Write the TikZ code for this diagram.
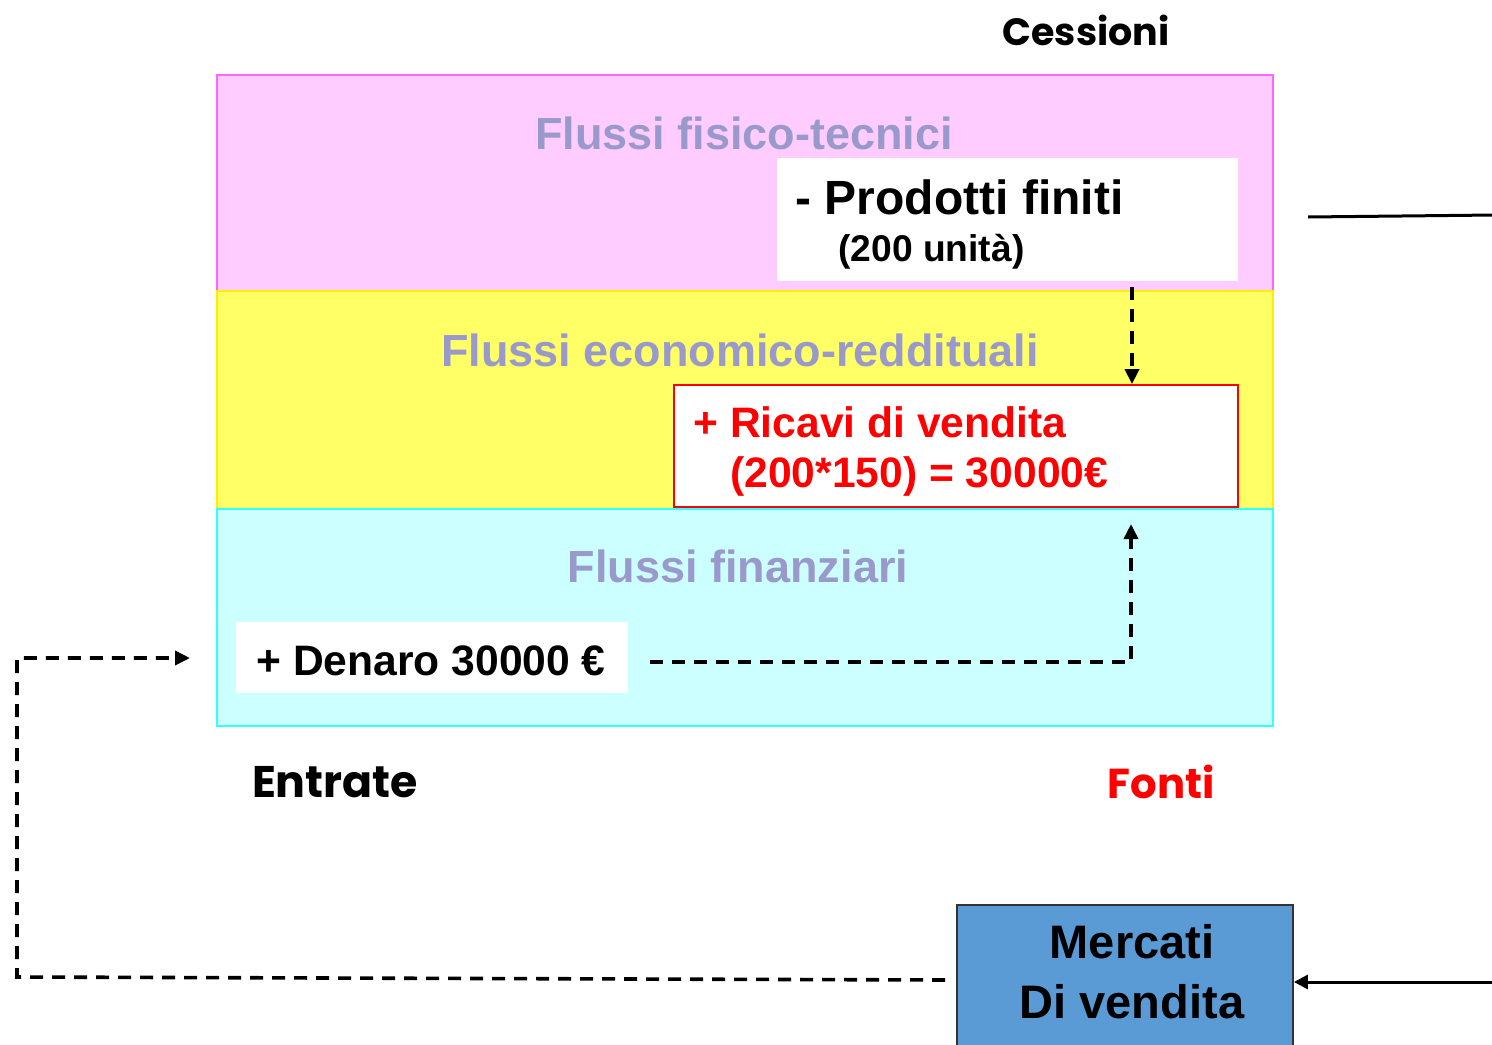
\documentclass[tikz,border=0pt]{standalone}
\usepackage{fontspec}
\setmainfont{Liberation Sans}
\newfontfamily\comicfont{Poppins}
\usetikzlibrary{arrows.meta,fit}
\definecolor{pinkF}{HTML}{FFCCFF}
\definecolor{pinkD}{HTML}{FF66FF}
\definecolor{yelF}{HTML}{FFFF66}
\definecolor{yelD}{HTML}{FFEE00}
\definecolor{cyaF}{HTML}{CCFFFF}
\definecolor{cyaD}{HTML}{33FFFF}
\definecolor{ttl}{HTML}{9999CC}
\definecolor{mblue}{HTML}{5B9BD5}
\newcommand{\fsz}[1]{\fontsize{#1pt}{#1pt}\selectfont\bfseries}
\begin{document}
\begin{tikzpicture}[x=0.5pt,y=-0.5pt,
  band/.style={inner sep=0pt, line width=1pt},
  title/.style={anchor=base, text=ttl, font=\fsz{22.5}, inner sep=0pt},
  txt/.style={anchor=base west, inner sep=0pt},
  comic/.style={inner sep=0pt, font=\comicfont\bfseries},
  dflow/.style={dash pattern=on 6.5pt off 4.5pt, line width=1.8pt, -{Triangle[length=7.5pt,width=7pt]}},
  sflow/.style={line width=1.5pt}
]
\clip (0,0) rectangle (1492,1044);
\fill[white] (0,0) rectangle (1492,1044);

% bands
\node[band, fit={(217,75) (1273,291)}, fill=pinkF, draw=pinkD] (b1) {};
\node[band, fit={(217,291) (1273,509)}, fill=yelF, draw=yelD] (b2) {};
\node[band, fit={(217,509) (1273,726)}, fill=cyaF, draw=cyaD] (b3) {};

\node[title] (t1) at (744,149) {Flussi fisico-tecnici};
\node[title] (t2) at (740,366) {Flussi economico-reddituali};
\node[title] (t3) at (738,582) {Flussi finanziari};

% Prodotti box
\node[inner sep=0pt, fit={(777,158) (1238,281)}, fill=white] (prod) {};
\node[txt, font=\fsz{24}] (p1) at (795,214) {- Prodotti finiti};
\node[txt, font=\fsz{18.6}] (p2) at (838,261) {(200 unità)};

% Ricavi box
\node[inner sep=0pt, fit={(674,385) (1238,507)}, fill=white, draw=red, line width=0.9pt] (ric) {};
\node[txt, font=\fsz{21.3}, text=red] (r1) at (693,437) {+ Ricavi di vendita};
\node[txt, font=\fsz{21.3}, text=red] (r2) at (730,487) {(200*150) = 30000€};

% Denaro box
\node[inner sep=0pt, fit={(236,622) (628,693)}, fill=white] (den) {};
\node[txt, font=\fsz{21.3}] (d1) at (256,675) {+ Denaro 30000 €};

% Mercati box
\node[inner sep=0pt, fit={(957,905) (1293,1050)}, fill=mblue, draw=black!80, line width=0.9pt] (merc) {};
\node[anchor=base, inner sep=0pt, font=\fsz{23.5}] (m1) at (1132,958) {Mercati};
\node[anchor=base, inner sep=0pt, font=\fsz{23.5}] (m2) at (1132,1018) {Di vendita};

% comic labels
\node[comic] (ces) at (1086,30) {\resizebox{83.5pt}{!}{Cessioni}};
\node[comic] (ent) at (335,782) {\resizebox{83pt}{!}{Entrate}};
\node[comic, text=red] (fon) at (1161,782) {\resizebox{53.5pt}{!}{Fonti}};

% connectors
\coordinate (c1) at (1132,287);
\draw[dflow] (c1) -- (c1 |- ric.north);

\coordinate (c2) at (650,662);
\coordinate (c3) at (1131,662);
\coordinate (c4) at (1131,524);
\draw[dflow] (c2) -- (c3) -- (c4);

\coordinate (c5) at (945,980);
\coordinate (c6) at (17,977);
\coordinate (c7) at (17,658);
\coordinate (c8) at (190,658);
\draw[dflow] (c5) -- (c6) -- (c7) -- (c8);

\coordinate (c9) at (1495,982);
\draw[sflow, -{Triangle[length=7pt,width=7pt]}] (c9) -- (c9 -| merc.east);

\coordinate (c10) at (1308,217);
\coordinate (c11) at (1495,215);
\draw[sflow] (c10) -- (c11);
\end{tikzpicture}
\end{document}
